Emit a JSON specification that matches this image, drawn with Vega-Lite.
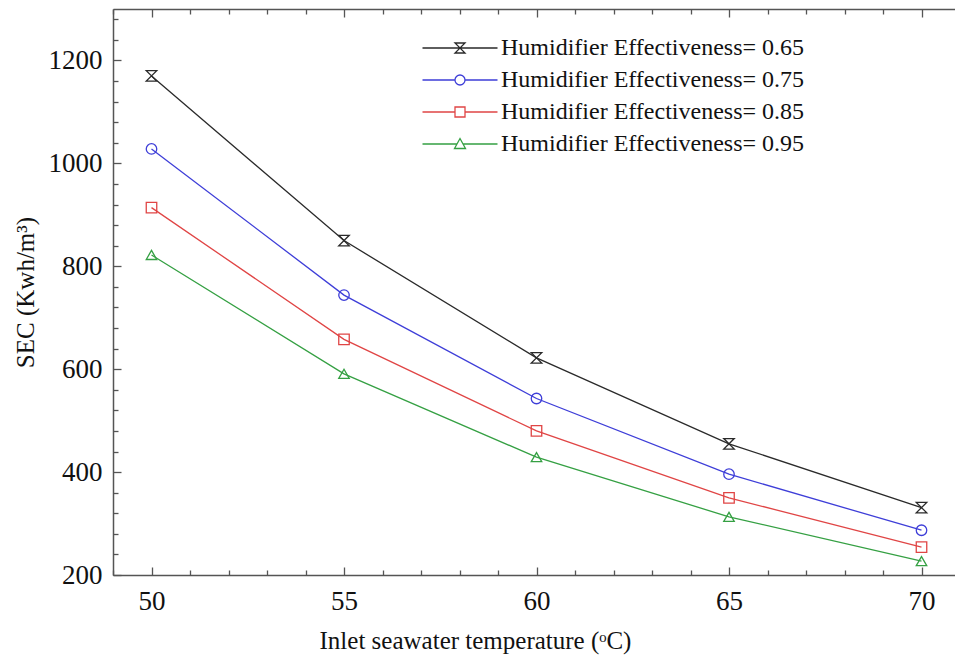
{
  "$schema": "https://vega.github.io/schema/vega-lite/v6.json",
  "autosize": {"type": "none"},
  "width": 842,
  "height": 566,
  "padding": {"left": 113, "top": 9, "right": 0, "bottom": 82},
  "background": "white",
  "config": {
    "view": {"stroke": null},
    "font": "Liberation Serif",
    "legend": {"labelFont": "Liberation Serif"},
    "axis": {"grid": false, "domainColor": "#555", "domainWidth": 1.5, "tickColor": "#555", "tickWidth": 1.3, "labelColor": "#111", "titleColor": "#111", "labelFont": "Liberation Serif", "titleFont": "Liberation Serif", "labelFontSize": 27, "titleFontSize": 25, "titleFontWeight": "normal"}
  },
  "data": {
    "values": [
      {"temp": 50, "sec": 1170, "series": "Humidifier Effectiveness= 0.65"},
      {"temp": 55, "sec": 850, "series": "Humidifier Effectiveness= 0.65"},
      {"temp": 60, "sec": 622, "series": "Humidifier Effectiveness= 0.65"},
      {"temp": 65, "sec": 455, "series": "Humidifier Effectiveness= 0.65"},
      {"temp": 70, "sec": 331, "series": "Humidifier Effectiveness= 0.65"},
      {"temp": 50, "sec": 1028, "series": "Humidifier Effectiveness= 0.75"},
      {"temp": 55, "sec": 744, "series": "Humidifier Effectiveness= 0.75"},
      {"temp": 60, "sec": 543, "series": "Humidifier Effectiveness= 0.75"},
      {"temp": 65, "sec": 396, "series": "Humidifier Effectiveness= 0.75"},
      {"temp": 70, "sec": 287, "series": "Humidifier Effectiveness= 0.75"},
      {"temp": 50, "sec": 914, "series": "Humidifier Effectiveness= 0.85"},
      {"temp": 55, "sec": 658, "series": "Humidifier Effectiveness= 0.85"},
      {"temp": 60, "sec": 480, "series": "Humidifier Effectiveness= 0.85"},
      {"temp": 65, "sec": 350, "series": "Humidifier Effectiveness= 0.85"},
      {"temp": 70, "sec": 254, "series": "Humidifier Effectiveness= 0.85"},
      {"temp": 50, "sec": 822, "series": "Humidifier Effectiveness= 0.95"},
      {"temp": 55, "sec": 591, "series": "Humidifier Effectiveness= 0.95"},
      {"temp": 60, "sec": 429, "series": "Humidifier Effectiveness= 0.95"},
      {"temp": 65, "sec": 313, "series": "Humidifier Effectiveness= 0.95"},
      {"temp": 70, "sec": 227, "series": "Humidifier Effectiveness= 0.95"}
    ]
  },
  "resolve": {"axis": {"x": "independent", "y": "independent"}, "scale": {"shape": "independent", "color": "independent"}, "legend": {"color": "independent", "shape": "independent"}},
  "layer": [
    {
      "mark": {"type": "line", "strokeWidth": 1.3},
      "encoding": {
        "x": {"field": "temp", "type": "quantitative", "scale": {"domain": [49, 70.87], "nice": false, "zero": false},
              "axis": {"orient": "bottom", "values": [50, 55, 60, 65, 70], "ticks": false, "labelPadding": 13, "title": "Inlet seawater temperature (ᵒC)", "titlePadding": 14, "titleX": 362}},
        "y": {"field": "sec", "type": "quantitative", "scale": {"domain": [200, 1300], "nice": false, "zero": false},
              "axis": {"orient": "left", "values": [200, 400, 600, 800, 1000, 1200], "format": "d", "ticks": false, "labelPadding": 11, "title": "SEC (Kwh/m³)", "titlePadding": 10}},
        "color": {"field": "series", "type": "nominal", "legend": null,
                  "scale": {"range": ["#2a2a2a", "#3e3ed8", "#e04545", "#35a043"]}}
      }
    },
    {
      "mark": {"type": "point", "filled": false, "size": 110, "strokeWidth": 1.3, "opacity": 1},
      "encoding": {
        "x": {"field": "temp", "type": "quantitative", "axis": null},
        "y": {"field": "sec", "type": "quantitative", "axis": null},
        "color": {"field": "series", "type": "nominal", "legend": null,
                  "scale": {"range": ["#2a2a2a", "#3e3ed8", "#e04545", "#35a043"]}},
        "shape": {"field": "series", "type": "nominal", "legend": null,
                  "scale": {"range": ["M-1,-1L1,-1L-1,1L1,1Z", "circle", "square", "triangle-up"]}}
      }
    },
    {
      "mark": {"type": "point", "filled": false, "size": 100, "strokeWidth": 1.3, "opacity": 0},
      "encoding": {
        "x": {"field": "temp", "type": "quantitative", "axis": null},
        "y": {"field": "sec", "type": "quantitative", "axis": null},
        "color": {"field": "series", "type": "nominal",
                  "scale": {"range": ["#2a2a2a", "#3e3ed8", "#e04545", "#35a043"]},
                  "legend": {"orient": "none", "legendX": 309, "legendY": 27, "title": null, "symbolOpacity": 1, "symbolSize": 100, "symbolStrokeWidth": 1.3, "symbolFillColor": "transparent", "symbolOffset": 26, "labelFont": "Liberation Serif", "labelFontSize": 24, "labelColor": "#111", "labelOffset": 29, "rowPadding": 8, "padding": 0, "labelLimit": 500}},
        "shape": {"field": "series", "type": "nominal",
                  "legend": {"orient": "none", "legendX": 309, "legendY": 27, "title": null, "symbolOpacity": 1, "symbolSize": 100, "symbolStrokeWidth": 1.3, "symbolFillColor": "transparent", "symbolOffset": 26, "labelFont": "Liberation Serif", "labelFontSize": 24, "labelColor": "#111", "labelOffset": 29, "rowPadding": 8, "padding": 0, "labelLimit": 500},
                  "scale": {"range": [
                    "M-7.5,0L7.5,0M-1,-1L1,-1L-1,1L1,1Z",
                    "M-7.5,0L-1,0M1,0L7.5,0M1,0A1,1 0 1 1 -1,0A1,1 0 1 1 1,0Z",
                    "M-7.5,0L-1,0M1,0L7.5,0M-1,-1L1,-1L1,1L-1,1Z",
                    "M-7.5,0L-0.6,0M0.6,0L7.5,0M0,-1.1L1.1,0.9L-1.1,0.9Z"
                  ]}}
      }
    },
    {
      "mark": {"type": "point", "opacity": 0},
      "encoding": {
        "x": {"field": "temp", "type": "quantitative", "axis": {"orient": "bottom", "values": [50, 55, 60, 65, 70], "labels": false, "domain": false, "tickSize": -8, "title": null}},
        "y": {"field": "sec", "type": "quantitative", "axis": {"orient": "left", "values": [200, 400, 600, 800, 1000, 1200], "labels": false, "domain": false, "tickSize": -8, "title": null}}
      }
    },
    {
      "mark": {"type": "point", "opacity": 0},
      "encoding": {
        "x": {"field": "temp", "type": "quantitative", "axis": {"orient": "bottom", "values": [49, 51, 52, 53, 54, 56, 57, 58, 59, 61, 62, 63, 64, 66, 67, 68, 69], "labels": false, "domain": false, "tickSize": -5, "title": null}},
        "y": {"field": "sec", "type": "quantitative", "axis": {"orient": "left", "values": [240, 280, 320, 360, 440, 480, 520, 560, 640, 680, 720, 760, 840, 880, 920, 960, 1040, 1080, 1120, 1160, 1240, 1280], "labels": false, "domain": false, "tickSize": -5, "title": null}}
      }
    },
    {
      "mark": {"type": "point", "opacity": 0},
      "encoding": {
        "x": {"field": "temp", "type": "quantitative", "axis": {"orient": "top", "values": [50, 55, 60, 65, 70], "labels": false, "domain": true, "tickSize": -8, "title": null}},
        "y": {"field": "sec", "type": "quantitative", "axis": null}
      }
    },
    {
      "mark": {"type": "point", "opacity": 0},
      "encoding": {
        "x": {"field": "temp", "type": "quantitative", "axis": {"orient": "top", "values": [49, 51, 52, 53, 54, 56, 57, 58, 59, 61, 62, 63, 64, 66, 67, 68, 69], "labels": false, "domain": false, "tickSize": -5, "title": null}},
        "y": {"field": "sec", "type": "quantitative", "axis": null}
      }
    }
  ]
}
